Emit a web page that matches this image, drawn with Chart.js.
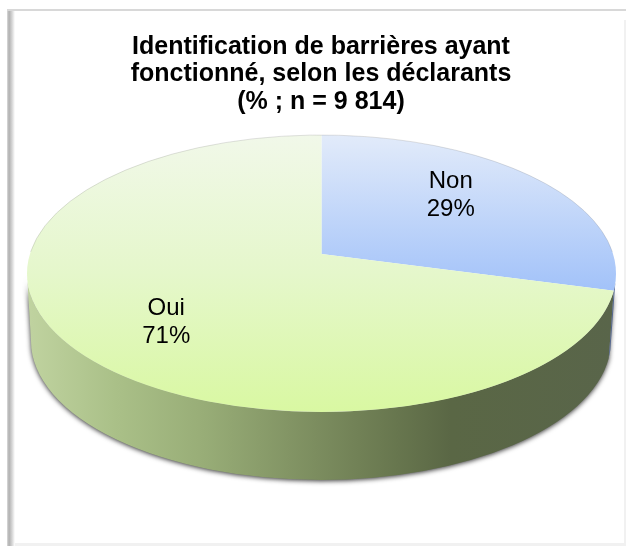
<!DOCTYPE html>
<html>
<head>
<meta charset="utf-8">
<style>
html,body{margin:0;padding:0;background:#fff;}
canvas{display:block;}
</style>
<script src="https://cdn.jsdelivr.net/npm/chart.js@4/dist/chart.umd.min.js"></script>
</head>
<body>
<canvas id="c" width="626" height="546"></canvas>
<script>
const categories = ["Non", "Oui"];
const values = [29, 71];
const titleLines = ["Identification de barrières ayant", "fonctionné, selon les déclarants", "(% ; n = 9 814)"];

// Geometry of the tilted disc
const E = {cx: 321.5, cy: 273.5, rx: 294.5, ry: 138.5};
const B = {cx: 321, cy: 341, rx: 290, ry: 139};
const apex = {x: 321.5, y: 254};
const k = 0.49;
const labelFont = '24px "Liberation Sans", Arial, sans-serif';
const labelOffsets = [{dx: -13, dy: -5}, {dx: -13, dy: 14}];

function faceGradient(ctx, cy, y0, y1, stops) {
  const g = ctx.createLinearGradient(0, cy + (y0 - apex.y) / k, 0, cy + (y1 - apex.y) / k);
  stops.forEach(s => g.addColorStop(s[0], s[1]));
  return g;
}
function sliceColor(c) {
  const chart = c.chart;
  const a = chart.chartArea;
  if (!a) return '#ccc';
  const cy = (a.top + a.bottom) / 2;
  return c.dataIndex === 0
    ? faceGradient(chart.ctx, cy, 135, 291, [[0, '#e2ebfa'], [1, '#a2c2f9']])
    : faceGradient(chart.ctx, cy, 135, 412, [[0, '#f1f8e9'], [0.5, '#e5f7cb'], [1, '#d9f8a2']]);
}

// Point where a ray leaving the apex at a chart angle meets the rim
function rimParam(angle) {
  const dx = Math.cos(angle), dy = k * Math.sin(angle);
  const ox = (apex.x - E.cx) / E.rx, oy = (apex.y - E.cy) / E.ry;
  const ux = dx / E.rx, uy = dy / E.ry;
  const A = ux * ux + uy * uy, Bq = 2 * (ox * ux + oy * uy), C = ox * ox + oy * oy - 1;
  const t = (-Bq + Math.sqrt(Bq * Bq - 4 * A * C)) / (2 * A);
  const px = apex.x + t * dx, py = apex.y + t * dy;
  return Math.atan2((py - E.cy) / E.ry, (px - E.cx) / E.rx);
}
function wallPath(ctx, t0, t1) {
  ctx.beginPath();
  ctx.ellipse(E.cx, E.cy, E.rx, E.ry, 0, t0, t1, false);
  ctx.ellipse(B.cx, B.cy, B.rx, B.ry, 0, t1, t0, true);
  ctx.closePath();
}

const frame = {
  id: 'frame',
  beforeDraw(chart) {
    const ctx = chart.ctx;
    ctx.save();
    ctx.fillStyle = '#d8d8d8';
    ctx.fillRect(7, 9, 619, 2);
    const l = ctx.createLinearGradient(7, 0, 15, 0);
    l.addColorStop(0, '#dcdcdc');
    l.addColorStop(0.25, '#b0b0b0');
    l.addColorStop(0.6, '#d2d2d2');
    l.addColorStop(1, '#ffffff');
    ctx.fillStyle = l;
    ctx.fillRect(7, 11, 8, 535);
    ctx.fillStyle = '#f1f1f1';
    ctx.fillRect(15, 543, 611, 3);
    ctx.fillRect(624, 20, 2, 526);
    ctx.restore();
  }
};

const disc = {
  id: 'disc',
  beforeDatasetsDraw(chart) {
    const ctx = chart.ctx;
    const arcs = chart.getDatasetMeta(0).data;
    const split = rimParam(arcs[0].endAngle);
    ctx.save();
    // Side wall
    ctx.save();
    ctx.shadowColor = 'rgba(0,0,0,0.8)';
    ctx.shadowBlur = 5;
    ctx.shadowOffsetY = 1;
    const g = ctx.createLinearGradient(27, 0, 616, 0);
    [[0, '#c0d3a0'], [0.15, '#aac088'], [0.3, '#98ad77'], [0.49, '#7c8d5f'], [0.63, '#67764e'], [0.72, '#5a6745'], [1, '#59654a']]
      .forEach(s => g.addColorStop(s[0], s[1]));
    ctx.fillStyle = g;
    wallPath(ctx, split, Math.PI);
    ctx.fill();
    ctx.restore();
    ctx.fillStyle = '#55688f';
    wallPath(ctx, 0, split);
    ctx.fill();
    // Top face: arcs from the chart, tilted and trimmed to the rim
    ctx.beginPath();
    ctx.ellipse(E.cx, E.cy, E.rx, E.ry, 0, 0, Math.PI * 2);
    ctx.clip();
    ctx.translate(apex.x, apex.y);
    ctx.scale(1, k);
    ctx.translate(-arcs[0].x, -arcs[0].y);
  },
  afterDatasetsDraw(chart) {
    const ctx = chart.ctx;
    ctx.restore();
    ctx.save();
    ctx.strokeStyle = 'rgba(110,110,110,0.35)';
    ctx.lineWidth = 0.6;
    ctx.beginPath();
    ctx.ellipse(E.cx, E.cy, E.rx, E.ry, 0, Math.PI * 1.05, Math.PI * 1.95);
    ctx.stroke();
    // Data labels
    const arcs = chart.getDatasetMeta(0).data;
    const total = values.reduce((a, b) => a + b, 0);
    ctx.fillStyle = '#000';
    ctx.font = labelFont;
    ctx.textAlign = 'center';
    ctx.textBaseline = 'middle';
    arcs.forEach((arc, i) => {
      const mid = (arc.startAngle + arc.endAngle) / 2;
      const x = apex.x + 180 * Math.cos(mid) + labelOffsets[i].dx;
      const y = apex.y + 180 * k * Math.sin(mid) + labelOffsets[i].dy;
      ctx.fillText(categories[i], x, y - 14);
      ctx.fillText(Math.round(values[i] / total * 100) + '%', x, y + 14);
    });
    ctx.restore();
  }
};

new Chart(document.getElementById('c'), {
  type: 'pie',
  data: {
    labels: categories,
    datasets: [{data: values, backgroundColor: sliceColor, borderWidth: 0, clip: false}]
  },
  options: {
    responsive: false,
    animation: false,
    radius: 345,
    layout: {padding: {left: 16, top: 0}},
    plugins: {
      legend: {display: false},
      tooltip: {enabled: false},
      title: {
        display: true,
        text: titleLines,
        color: '#000',
        font: {family: '"Liberation Sans", Arial, sans-serif', size: 25, weight: 'bold', lineHeight: 1.1},
        padding: {top: 33, bottom: 10}
      }
    }
  },
  plugins: [frame, disc]
});
</script>
</body>
</html>
